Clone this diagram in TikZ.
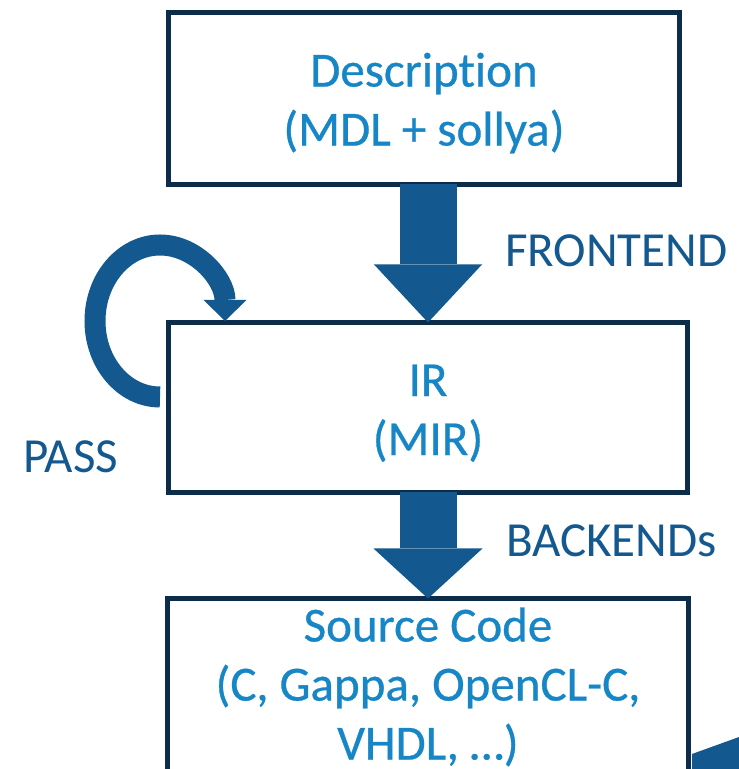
\documentclass[tikz,border=0pt]{standalone}
\usepackage{fontspec}
\setmainfont[Ligatures=NoCommon]{Carlito}
\newfontfamily\stagefont[Ligatures=NoCommon,FakeBold=0.6]{Carlito}
\usepackage{tikz}
\usetikzlibrary{arrows.meta}
\definecolor{navy}{HTML}{0C2C49}
\definecolor{flowblue}{HTML}{13588E}
\definecolor{textblue}{HTML}{1786C6}
\newcommand{\topstrut}{\rule{0pt}{43pt}}
\tikzset{
  stage/.style={draw=navy,line width=5pt,fill=white,align=center,text=textblue,
                outer sep=0pt,inner sep=0pt,font=\stagefont\fontsize{49}{59}\selectfont},
  bigflow/.style={draw=flowblue,line width=57pt,-{Triangle[length=58pt,width=108pt,line width=0pt]}},
  passflow/.style={draw=flowblue,line width=21pt,-{Triangle[length=21pt,width=43pt,line width=0pt]}},
  lbl/.style={text=flowblue,anchor=base west,inner sep=0pt,font=\fontsize{49}{58}\selectfont}
}
\begin{document}
\begin{tikzpicture}[x=1pt,y=1pt]
  \useasboundingbox (0,0) rectangle (739,769);
  % Stages
  \node[stage,minimum width=511pt,minimum height=172pt] (desc) at (424,670.5) {\topstrut Description\\(MDL + sollya)};
  \node[stage,minimum width=519pt,minimum height=170pt] (ir) at (428,361.5) {\topstrut IR\\(MIR)};
  \node[stage,minimum width=521pt,inner ysep=9pt,anchor=north] (src) at (428,170.5) {Source Code\\(C, Gappa, OpenCL-C,\\VHDL, \dots)};

  % Flows
  \draw[bigflow] (desc.south -| ir.north) -- (ir.north);
  \draw[bigflow,-{Triangle[length=50pt,width=109pt,line width=0pt]}] (ir.south) -- (src.north);
  \coordinate (passin) at ([xshift=-8.5pt,yshift=10.5pt]ir.west);
  \draw[passflow] (passin) arc[start angle=270,end angle=0,x radius=65pt,y radius=76pt];
  \fill[flowblue] (692,15) -- (739,32) -- (739,0) -- (692,0) -- cycle;

  \node[lbl] (fe) at (505,502) {FRONTEND};
  \node[lbl] (be) at (506,212) {BACKENDs};
  \node[lbl] (pass) at (23,296) {PASS};
\end{tikzpicture}
\end{document}
